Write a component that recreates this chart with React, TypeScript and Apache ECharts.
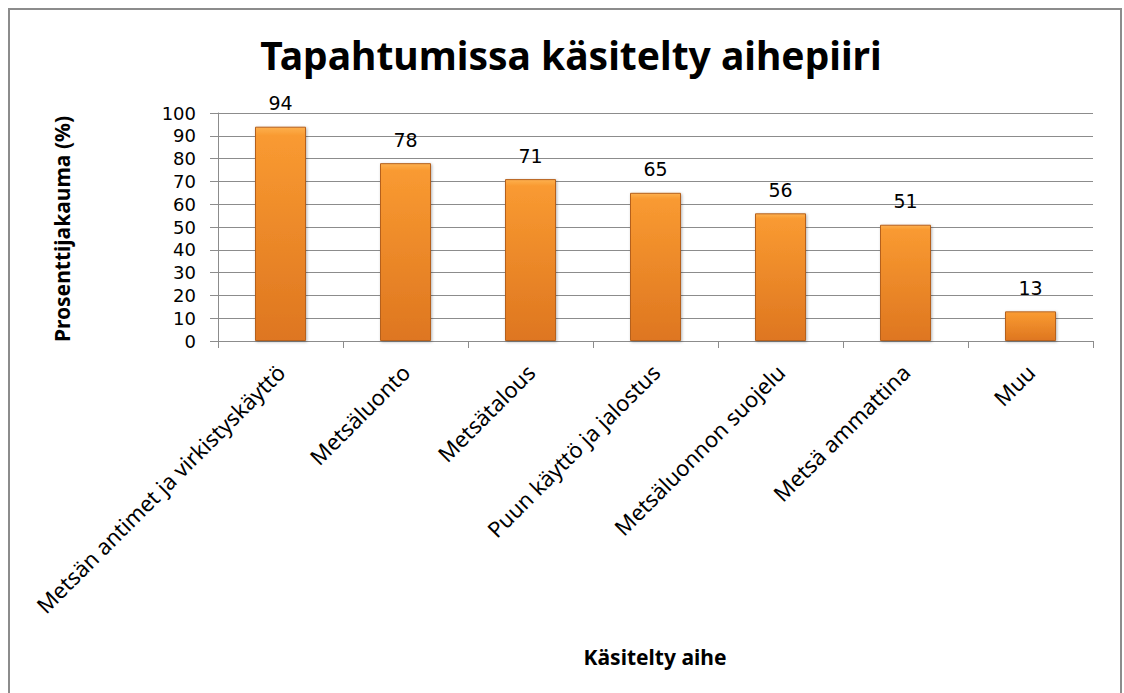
import React, { useEffect, useRef } from "react";
import * as echarts from "echarts";

const titleText = "Tapahtumissa käsitelty aihepiiri";
const yAxisTitle = "Prosenttijakauma (%)";
const xAxisTitle = "Käsitelty aihe";
const categories = [
  "Metsän antimet ja virkistyskäyttö",
  "Metsäluonto",
  "Metsätalous",
  "Puun käyttö ja jalostus",
  "Metsäluonnon suojelu",
  "Metsä ammattina",
  "Muu",
];
const values = [94, 78, 71, 65, 56, 51, 13];

const FONT = "'Noto Sans', 'Open Sans', sans-serif";
const NUMFONT = "'DejaVu Sans', 'Noto Sans', sans-serif";

export default function App() {
  const ref = useRef<HTMLDivElement>(null);
  useEffect(() => {
    if (!ref.current) return;
    const chart = echarts.init(ref.current, null, { renderer: "svg" });
    chart.setOption({
      animation: false,
      backgroundColor: "#ffffff",
      title: {
        text: titleText,
        left: 566,
        top: 30,
        textAlign: "center",
        textStyle: { fontFamily: FONT, fontSize: 39, fontWeight: "bold", color: "#000" },
      },
      grid: { left: 218, right: 31, top: 113, bottom: 352, containLabel: false },
      xAxis: {
        type: "category",
        data: categories,
        boundaryGap: true,
        axisLine: { lineStyle: { color: "#8c8c8c", width: 1 } },
        axisTick: { show: true, alignWithLabel: false, length: 7, lineStyle: { color: "#8c8c8c" } },
        axisLabel: {
          interval: 0,
          rotate: 45,
          margin: 27,
          fontFamily: FONT,
          fontSize: 22,
          color: "#000",
        },
      },
      yAxis: {
        type: "value",
        min: 0,
        max: 100,
        interval: 10,
        axisLine: { show: true, lineStyle: { color: "#8c8c8c" } },
        axisTick: { show: true, length: 8, lineStyle: { color: "#8c8c8c" } },
        splitLine: { show: true, lineStyle: { color: "#8c8c8c", width: 1 } },
        axisLabel: {
          fontFamily: NUMFONT,
          fontSize: 18,
          lineHeight: 20,
          color: "#000",
          margin: 22,
        },
      },
      series: [
        {
          type: "bar",
          data: values,
          barWidth: 51,
          itemStyle: {
            color: new echarts.graphic.LinearGradient(0, 0, 0, 1, [
              { offset: 0, color: "#FDB04E" },
              { offset: 0.04, color: "#F99A31" },
              { offset: 1, color: "#DE7620" },
            ]),
            borderColor: "#B5601C",
            borderWidth: 1,
            shadowColor: "rgba(0,0,0,0.3)",
            shadowBlur: 3,
            shadowOffsetX: 1,
            shadowOffsetY: 1,
          },
          label: {
            show: true,
            position: "top",
            distance: 14,
            fontFamily: NUMFONT,
            fontSize: 19,
            color: "#000",
          },
        },
      ],
      graphic: [
        {
          type: "rect",
          shape: { x: 9, y: 9, width: 1112, height: 700 },
          style: { fill: "none", stroke: "#8c8c8c", lineWidth: 2 },
          silent: true,
        },
        {
          type: "text",
          x: 62,
          y: 229,
          rotation: Math.PI / 2,
          style: {
            text: yAxisTitle,
            fontFamily: FONT,
            fontSize: 21,
            fontWeight: "bold",
            fill: "#000",
            align: "center",
            verticalAlign: "middle",
          },
        },
        {
          type: "text",
          x: 655,
          y: 657,
          style: {
            text: xAxisTitle,
            fontFamily: FONT,
            fontSize: 21,
            fontWeight: "bold",
            fill: "#000",
            align: "center",
            verticalAlign: "middle",
          },
        },
      ],
    });
    return () => chart.dispose();
  }, []);
  return (
    <div
      ref={ref}
      style={{ position: "fixed", left: 0, top: 0, width: 1124, height: 693 }}
    />
  );
}
